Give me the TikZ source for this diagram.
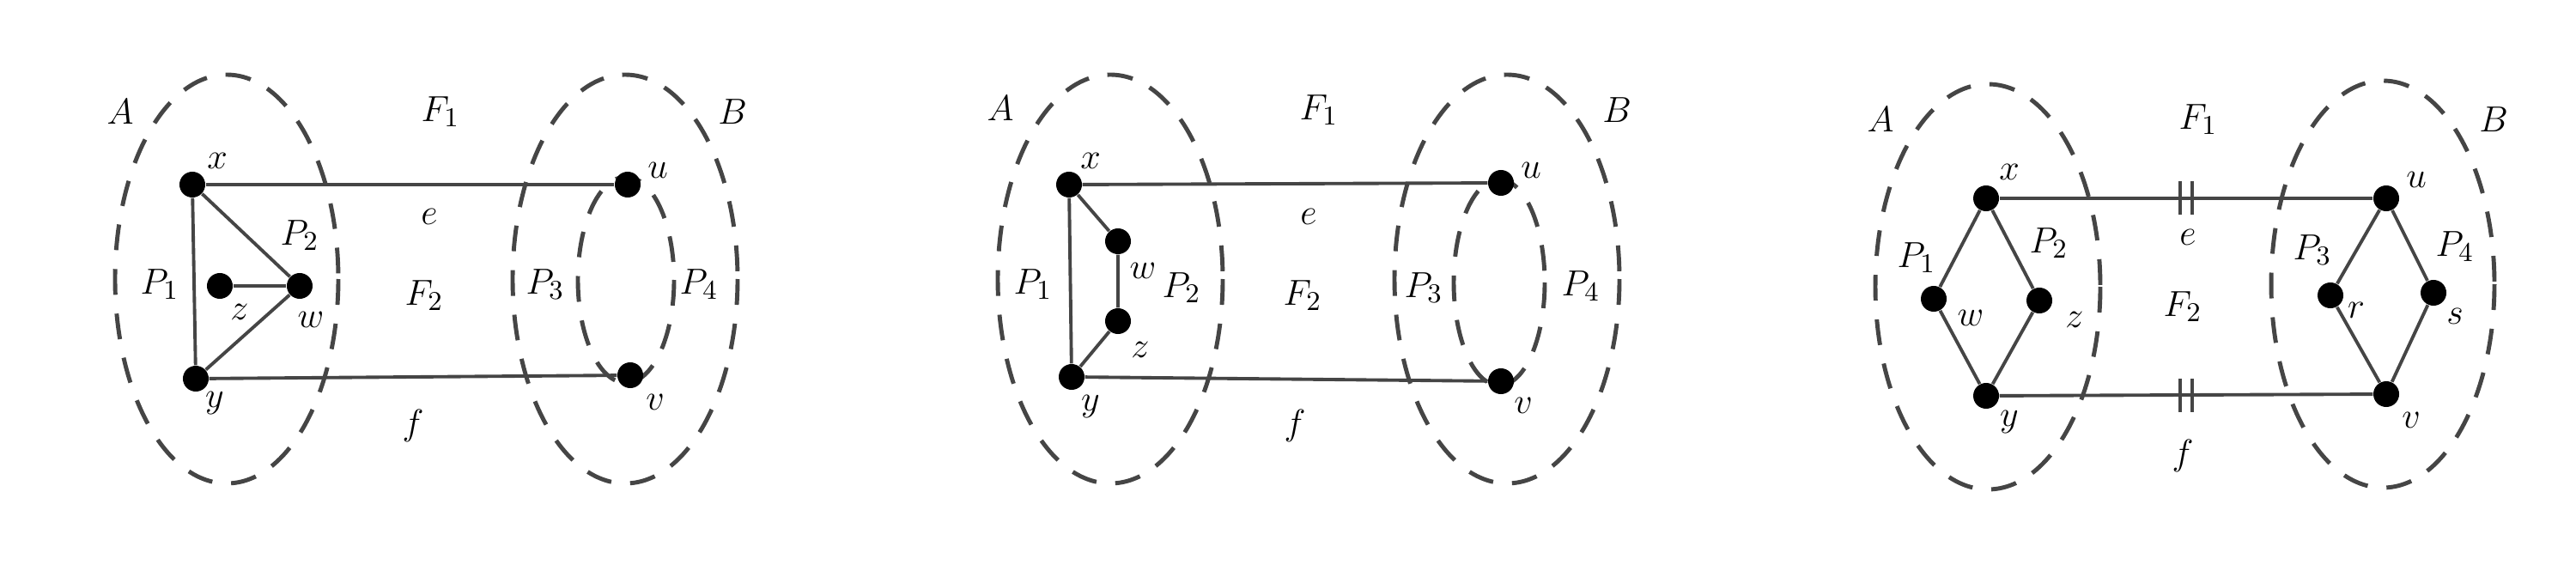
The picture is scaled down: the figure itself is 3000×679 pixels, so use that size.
\documentclass[tikz,border=0pt]{standalone}
\usepackage{amsmath}
\usepackage{tikz}

\definecolor{edgegray}{HTML}{454545}
\tikzset{
    dot/.style={circle, fill=black, inner sep=0pt, minimum size=0.3cm},
    lbl/.style={font=\fontsize{12.5}{15}\selectfont},
    edge/.style={draw=edgegray, line width=1.1pt},
    region/.style={draw=edgegray, line width=1.4pt, dash pattern=on 0.3cm off 0.22cm},
}

\begin{document}
\begin{tikzpicture}[x=0.01cm, y=-0.01cm]
    \useasboundingbox (0,0) rectangle (3000,679);

    % first picture: triangle with a pendant vertex
    \draw[region] (264,325) ellipse [x radius=130, y radius=238];
    \draw[region] (728,325) ellipse [x radius=131, y radius=238];
    \draw[region] (729,326) ellipse [x radius=56, y radius=120];
    \node[dot] (x1) at (224,215) {};
    \node[dot] (y1) at (228,441) {};
    \node[dot] (z1) at (256,333) {};
    \node[dot] (w1) at (349,333) {};
    \node[dot] (u1) at (731,215) {};
    \node[dot] (v1) at (734,437) {};
    \draw[edge] (x1) -- (u1);
    \draw[edge] (y1) -- (v1);
    \draw[edge] (x1) -- (y1);
    \draw[edge] (x1) -- (w1) -- (y1);
    \draw[edge] (z1) -- (w1);
    \node[lbl] at (140,130) {$A$};
    \node[lbl] at (513,130) {$F_1$};
    \node[lbl] at (853,130) {$B$};
    \node[lbl] at (253,187) {$x$};
    \node[lbl] at (766,198) {$u$};
    \node[lbl] at (500,252) {$e$};
    \node[lbl] at (349,274) {$P_2$};
    \node[lbl] at (186,331) {$P_1$};
    \node[lbl] at (494,344) {$F_2$};
    \node[lbl] at (635,331) {$P_3$};
    \node[lbl] at (814,331) {$P_4$};
    \node[lbl] at (279,363) {$z$};
    \node[lbl] at (362,372) {$w$};
    \node[lbl] at (250,470) {$y$};
    \node[lbl] at (763,468) {$v$};
    \node[lbl] at (481,496) {$f$};

    % second picture: path x-w-z-y
    \draw[region] (1293,325) ellipse [x radius=131, y radius=238];
    \draw[region] (1755,325) ellipse [x radius=131, y radius=238];
    \draw[region] (1746,329) ellipse [x radius=53, y radius=120];
    \node[dot] (x2) at (1245,215) {};
    \node[dot] (y2) at (1248,439) {};
    \node[dot] (w2) at (1302,281) {};
    \node[dot] (z2) at (1302,374) {};
    \node[dot] (u2) at (1748,213) {};
    \node[dot] (v2) at (1748,444) {};
    \draw[edge] (x2) -- (u2);
    \draw[edge] (y2) -- (v2);
    \draw[edge] (x2) -- (y2);
    \draw[edge] (x2) -- (w2) -- (z2) -- (y2);
    \node[lbl] at (1165,126) {$A$};
    \node[lbl] at (1536,128) {$F_1$};
    \node[lbl] at (1883,128) {$B$};
    \node[lbl] at (1270,187) {$x$};
    \node[lbl] at (1783,198) {$u$};
    \node[lbl] at (1524,252) {$e$};
    \node[lbl] at (1331,315) {$w$};
    \node[lbl] at (1376,335) {$P_2$};
    \node[lbl] at (1203,331) {$P_1$};
    \node[lbl] at (1517,344) {$F_2$};
    \node[lbl] at (1658,335) {$P_3$};
    \node[lbl] at (1841,333) {$P_4$};
    \node[lbl] at (1328,407) {$z$};
    \node[lbl] at (1270,474) {$y$};
    \node[lbl] at (1774,472) {$v$};
    \node[lbl] at (1508,496) {$f$};

    % third picture: two 4-cycles
    \draw[region] (2315,334) ellipse [x radius=131, y radius=236];
    \draw[region] (2775,331) ellipse [x radius=130, y radius=237];
    \node[dot] (x3) at (2313,231) {};
    \node[dot] (y3) at (2313,461) {};
    \node[dot] (w3) at (2252,348) {};
    \node[dot] (z3) at (2375,350) {};
    \node[dot] (u3) at (2779,231) {};
    \node[dot] (v3) at (2779,459) {};
    \node[dot] (r3) at (2714,344) {};
    \node[dot] (s3) at (2834,341) {};
    \draw[edge] (x3) -- (u3);
    \draw[edge] (y3) -- (v3);
    \draw[edge] (x3) -- (w3) -- (y3) -- (z3) -- (x3);
    \draw[edge] (u3) -- (r3) -- (v3) -- (s3) -- (u3);
    \foreach \tx in {2539,2553} {
        \draw[edge] (\tx,211) -- (\tx,250);
        \draw[edge] (\tx,441) -- (\tx,480);
    }
    \node[lbl] at (2190,139) {$A$};
    \node[lbl] at (2560,139) {$F_1$};
    \node[lbl] at (2904,139) {$B$};
    \node[lbl] at (2340,200) {$x$};
    \node[lbl] at (2814,209) {$u$};
    \node[lbl] at (2548,276) {$e$};
    \node[lbl] at (2232,300) {$P_1$};
    \node[lbl] at (2386,283) {$P_2$};
    \node[lbl] at (2693,291) {$P_3$};
    \node[lbl] at (2859,287) {$P_4$};
    \node[lbl] at (2295,370) {$w$};
    \node[lbl] at (2744,361) {$r$};
    \node[lbl] at (2859,368) {$s$};
    \node[lbl] at (2416,372) {$z$};
    \node[lbl] at (2542,357) {$F_2$};
    \node[lbl] at (2340,492) {$y$};
    \node[lbl] at (2808,489) {$v$};
    \node[lbl] at (2542,531) {$f$};
\end{tikzpicture}
\end{document}
